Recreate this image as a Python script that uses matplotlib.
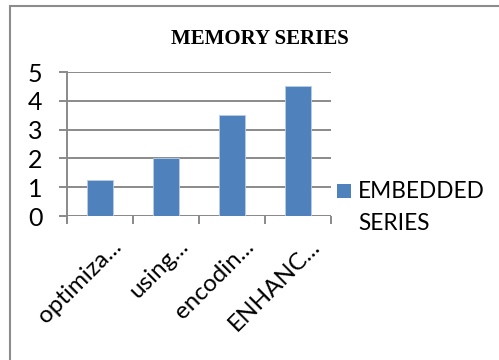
import matplotlib
matplotlib.use("Agg")
import matplotlib.pyplot as plt
import matplotlib.transforms as mtrans
from matplotlib.patches import Rectangle
import numpy as np

categories = ["optimiza...", "using...", "encodin...", "ENHANC..."]
values = [1.25, 2.0, 3.5, 4.5]
series_lines = ["EMBEDDED", "SERIES"]
title = "MEMORY SERIES"
yticks = [0, 1, 2, 3, 4, 5]

W, H = 499, 360
fig = plt.figure(figsize=(W / 100, H / 100), dpi=100)
fig.patch.set_facecolor("white")

# outer chart frame
fig.add_artist(Rectangle((10 / W, -0.1), 1.2, 1 - 6 / H + 0.1, transform=fig.transFigure,
                         fill=False, edgecolor="#8c8c8c", linewidth=1.5))

ax = fig.add_axes([67 / W, 1 - 216 / H, (331 - 67) / W, (216 - 72) / H])
x = np.arange(len(categories))
bar_color = "#4F81BD"
ax.bar(x, values, width=0.39, color=bar_color, edgecolor="#b9cde5", linewidth=0.6, zorder=3)

ax.set_xlim(-0.5, len(categories) - 0.5)
ax.set_ylim(0, 5)
grid_c = "#8a8a8a"
ax.set_yticks(yticks)
ax.yaxis.grid(True, color=grid_c, linewidth=1.4, zorder=0)
for s in ["top", "right", "bottom"]:
    ax.spines[s].set_visible(False)
ax.spines["left"].set_color(grid_c)
ax.spines["left"].set_linewidth(1.4)
ax.spines["left"].set_bounds(-0.2, 5)

tick_font = "Lato"
ax.tick_params(axis="y", length=5.8, width=1.4, color=grid_c, pad=12, labelsize=18)
for lab in ax.get_yticklabels():
    lab.set_fontfamily(tick_font)

# bottom axis line and boundary ticks
ax.axhline(0, color=grid_c, linewidth=1.4, zorder=2)
ax.set_xticks(np.arange(-0.5, len(categories)), minor=True)
ax.tick_params(axis="x", which="minor", length=5.8, width=1.4, color=grid_c)
ax.set_xticks(x)
ax.tick_params(axis="x", which="major", length=0, pad=4)
ax.set_xticklabels(categories, rotation=45, ha="right", va="top", rotation_mode="anchor",
                   fontsize=17.5, fontfamily=tick_font)
off = mtrans.ScaledTranslation(11 / 100, -14 / 100, fig.dpi_scale_trans)
for lab in ax.get_xticklabels():
    lab.set_transform(lab.get_transform() + off)

fig.text(260 / W, 1 - 39 / H, title, ha="center", va="center", fontsize=15,
         fontweight="bold", fontfamily="Liberation Serif")

# legend
fig.add_artist(Rectangle((337 / W, 1 - 198 / H), 14 / W, 14 / H, transform=fig.transFigure,
                         facecolor=bar_color, edgecolor="none"))
fig.text(358 / W, 1 - 191 / H, series_lines[0], ha="left", va="center", fontsize=16.3,
         fontfamily=tick_font)
fig.text(358 / W, 1 - 223 / H, series_lines[1], ha="left", va="center", fontsize=16.3,
         fontfamily=tick_font)

fig.savefig("out.png", dpi=100)
